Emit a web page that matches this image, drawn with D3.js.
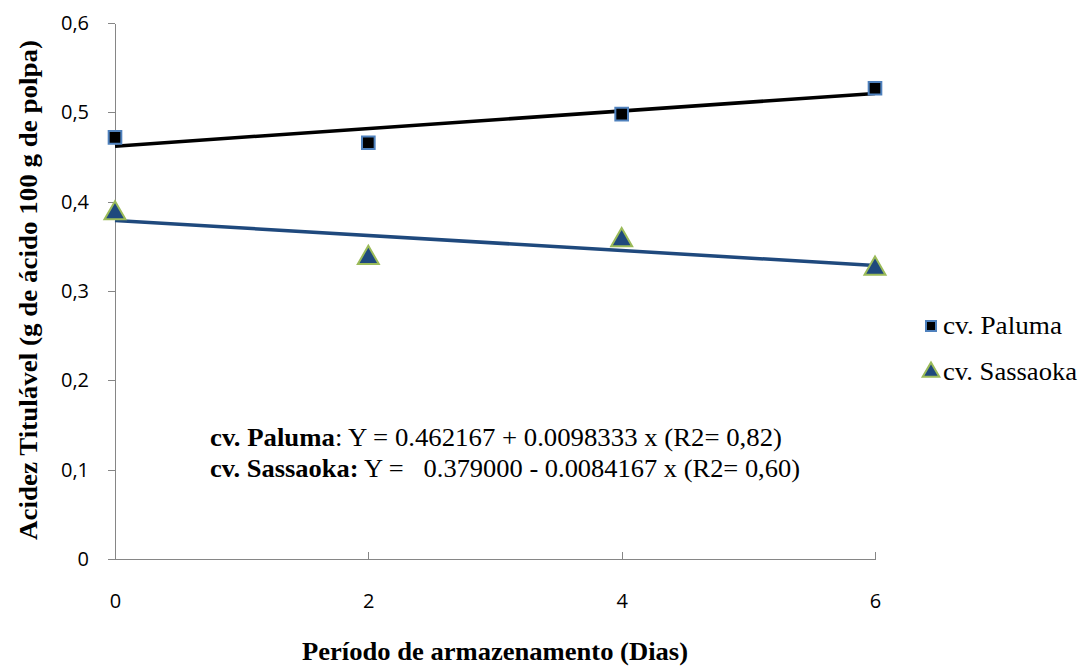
<!DOCTYPE html>
<html lang="pt">
<head>
<meta charset="UTF-8">
<script src="https://d3js.org/d3.v7.min.js"></script>
<style>
  body { margin: 0; background: #fff; }
  .tick text { font-family: "Open Sans", sans-serif; font-size: 20px; fill: #000; }
  .axis path, .axis line { stroke: #868686; shape-rendering: crispEdges; }
  .serif { font-family: "Liberation Serif", "Times New Roman", serif; white-space: pre; }
</style>
</head>
<body>
<div id="chart"></div>
<script>
// data
var days = [0, 2, 4, 6];
var paluma = [0.472, 0.466, 0.498, 0.527];
var sassaoka = [0.387, 0.337, 0.357, 0.325];
var palumaFit = [0.462167, 0.0098333];
var sassaokaFit = [0.379000, -0.0084167];
var yTicks = [0, 0.1, 0.2, 0.3, 0.4, 0.5, 0.6];
var xTicks = [0, 2, 4, 6];

var W = 1080, H = 666;
var svg = d3.select("#chart").append("svg")
    .attr("width", W).attr("height", H);

var x = d3.scaleLinear().domain([0, 6]).range([115, 875]);
var y = d3.scaleLinear().domain([0, 0.6]).range([559, 23]);
var fmt = function(d) { return d === 0 ? "0" : d3.format(".1f")(d).replace(".", ","); };

// y axis
svg.append("g").attr("class", "axis")
    .attr("transform", "translate(115,0)")
    .call(d3.axisLeft(y).tickValues(yTicks).tickSize(7).tickSizeOuter(0).tickFormat(fmt).tickPadding(19));

// x axis
var xa = svg.append("g").attr("class", "axis")
    .attr("transform", "translate(0,559)")
    .call(d3.axisBottom(x).tickValues(xTicks).tickSize(-7).tickSizeOuter(0)
      .tickFormat(d3.format("d")).tickPadding(0));
xa.selectAll(".tick text").attr("dy", "2.45em");
svg.selectAll(".axis .domain").attr("stroke-width", 1.5);

// trend lines
function fitLine(c, color) {
  svg.append("line")
    .attr("x1", x(0)).attr("y1", y(c[0]))
    .attr("x2", x(6)).attr("y2", y(c[0] + c[1] * 6))
    .attr("stroke", color).attr("stroke-width", 3.5);
}
fitLine(palumaFit, "#000");
fitLine(sassaokaFit, "#1f497d");

// markers
var sq = d3.symbol().type(d3.symbolSquare).size(160);
var tri = d3.symbol().type(d3.symbolTriangle).size(190);

svg.selectAll(".pal").data(days).enter().append("path")
    .attr("d", sq)
    .attr("transform", function(d, i) { return "translate(" + x(d) + "," + y(paluma[i]) + ")"; })
    .attr("fill", "#000").attr("stroke", "#4f81bd").attr("stroke-width", 2);

svg.selectAll(".sas").data(days).enter().append("path")
    .attr("d", tri)
    .attr("transform", function(d, i) { return "translate(" + x(d) + "," + y(sassaoka[i]) + ")"; })
    .attr("fill", "#1f497d").attr("stroke", "#9bbb59").attr("stroke-width", 2);

// legend
svg.append("path").attr("d", d3.symbol().type(d3.symbolSquare).size(100))
    .attr("transform", "translate(931,326)")
    .attr("fill", "#000").attr("stroke", "#4f81bd").attr("stroke-width", 2);
svg.append("text").attr("class", "serif").attr("x", 943).attr("y", 334)
    .attr("font-size", 26).attr("textLength", 119).attr("lengthAdjust", "spacingAndGlyphs")
    .text("cv. Paluma");
svg.append("path").attr("d", d3.symbol().type(d3.symbolTriangle).size(120))
    .attr("transform", "translate(931,372)")
    .attr("fill", "#1f497d").attr("stroke", "#9bbb59").attr("stroke-width", 2);
svg.append("text").attr("class", "serif").attr("x", 943).attr("y", 380)
    .attr("font-size", 26).attr("textLength", 134).attr("lengthAdjust", "spacingAndGlyphs")
    .text("cv. Sassaoka");

// equations
var eq1 = svg.append("text").attr("class", "serif").attr("x", 210).attr("y", 446)
    .attr("font-size", 26).attr("textLength", 572).attr("lengthAdjust", "spacingAndGlyphs");
eq1.append("tspan").attr("font-weight", "bold").text("cv. Paluma");
eq1.append("tspan").text(": Y = 0.462167 + 0.0098333 x (R2= 0,82)");
var eq2 = svg.append("text").attr("class", "serif").attr("x", 210).attr("y", 477)
    .attr("font-size", 26).attr("textLength", 590).attr("lengthAdjust", "spacingAndGlyphs");
eq2.append("tspan").attr("font-weight", "bold").text("cv. Sassaoka:");
eq2.append("tspan").text(" Y =   0.379000 - 0.0084167 x (R2= 0,60)");

// axis titles
svg.append("text").attr("class", "serif")
    .attr("transform", "translate(37,290) rotate(-90)")
    .attr("text-anchor", "middle").attr("font-weight", "bold").attr("font-size", 26)
    .attr("textLength", 500).attr("lengthAdjust", "spacingAndGlyphs")
    .text("Acidez Titulável (g de ácido 100 g de polpa)");
svg.append("text").attr("class", "serif")
    .attr("x", 495).attr("y", 660)
    .attr("text-anchor", "middle").attr("font-weight", "bold").attr("font-size", 26)
    .attr("textLength", 386).attr("lengthAdjust", "spacingAndGlyphs")
    .text("Período de armazenamento (Dias)");
</script>
</body>
</html>
